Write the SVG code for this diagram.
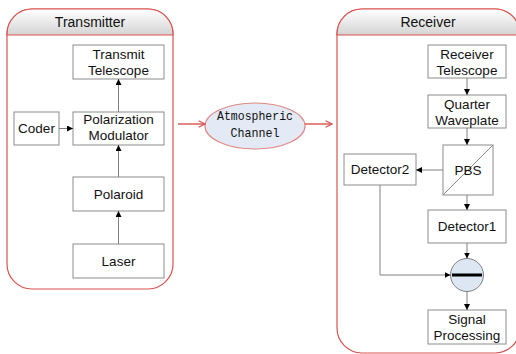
<svg xmlns="http://www.w3.org/2000/svg" width="516" height="354" viewBox="0 0 516 354">
  <defs>
    <linearGradient id="hdr" x1="0" y1="0" x2="0" y2="1">
      <stop offset="0" stop-color="#ffffff"/>
      <stop offset="1" stop-color="#d4d4d4"/>
    </linearGradient>
    <marker id="tri" viewBox="0 0 10 10" refX="10" refY="5" markerWidth="6" markerHeight="6" orient="auto" markerUnits="userSpaceOnUse">
      <path d="M0,0 L10,5 L0,10 z" fill="#000"/>
    </marker>
    <marker id="chev" viewBox="0 0 10 10" refX="9" refY="5" markerWidth="8" markerHeight="9" orient="auto" markerUnits="userSpaceOnUse">
      <path d="M1,1 L9,5 L1,9" fill="none" stroke="#d9534f" stroke-width="1.6"/>
    </marker>
  </defs>
  <style>
    .panel { fill: #ffffff; stroke: #d9534f; stroke-width: 1.2; }
    .head { fill: url(#hdr); stroke: #d9534f; stroke-width: 1.2; }
    .box { fill: #ffffff; stroke: #8c8c8c; stroke-width: 1; }
    .t { font-family: "Liberation Sans", Arial, sans-serif; font-size: 13.5px; fill: #111; text-anchor: middle; }
    .title { font-family: "Liberation Sans", Arial, sans-serif; font-size: 14px; fill: #111; text-anchor: middle; }
    .mono { font-family: "Liberation Mono", "DejaVu Sans Mono", monospace; font-size: 13px; fill: #111; text-anchor: middle; }
    .wire { fill: none; stroke: #808080; stroke-width: 1; marker-end: url(#tri); }
    .red { fill: none; stroke: #d9534f; stroke-width: 1.4; marker-end: url(#chev); }
  </style>

  <!-- Transmitter panel -->
  <g id="transmitter">
    <path class="panel" d="M32,9 H148 A25,25 0 0 1 173,34 V264 A25,25 0 0 1 148,289 H32 A25,25 0 0 1 7,264 V34 A25,25 0 0 1 32,9 Z"/>
    <path class="head" d="M7,35 V34 A25,25 0 0 1 32,9 H148 A25,25 0 0 1 173,34 V35 Z"/>
    <text class="title" x="90" y="27">Transmitter</text>
  </g>

  <!-- Receiver panel -->
  <g id="receiver">
    <path class="panel" d="M362,9 H495 A25,25 0 0 1 520,34 V328 A25,25 0 0 1 495,353 H362 A25,25 0 0 1 337,328 V34 A25,25 0 0 1 362,9 Z"/>
    <path class="head" d="M337,35 V34 A25,25 0 0 1 362,9 H495 A25,25 0 0 1 520,34 V35 Z"/>
    <text class="title" x="428" y="27">Receiver</text>
  </g>

  <!-- Transmitter nodes -->
  <g id="transmit-telescope">
    <rect class="box" x="73" y="45" width="91" height="34"/>
    <text class="t" x="118.5" y="59">Transmit</text>
    <text class="t" x="118.5" y="75">Telescope</text>
  </g>
  <g id="coder">
    <rect class="box" x="14" y="112" width="45" height="33"/>
    <text class="t" x="36.5" y="133">Coder</text>
  </g>
  <g id="polarization-modulator">
    <rect class="box" x="73" y="112" width="91" height="33"/>
    <text class="t" x="118.5" y="124">Polarization</text>
    <text class="t" x="118.5" y="140">Modulator</text>
  </g>
  <g id="polaroid">
    <rect class="box" x="73" y="177" width="91" height="34"/>
    <text class="t" x="118.5" y="199">Polaroid</text>
  </g>
  <g id="laser">
    <rect class="box" x="73" y="244" width="91" height="34"/>
    <text class="t" x="118.5" y="266">Laser</text>
  </g>

  <!-- Channel -->
  <g id="atmospheric-channel">
    <ellipse cx="255" cy="126" rx="50" ry="23" fill="#e3eaf6" stroke="#e08a86" stroke-width="1.2"/>
    <text class="mono" x="255" y="120" textLength="76" lengthAdjust="spacingAndGlyphs">Atmospheric</text>
    <text class="mono" x="255" y="137" textLength="49" lengthAdjust="spacingAndGlyphs">Channel</text>
  </g>

  <!-- Receiver nodes -->
  <g id="receiver-telescope">
    <rect class="box" x="428" y="45" width="78" height="33"/>
    <text class="t" x="467" y="59">Receiver</text>
    <text class="t" x="467" y="75">Telescope</text>
  </g>
  <g id="quarter-waveplate">
    <rect class="box" x="428" y="95" width="78" height="33"/>
    <text class="t" x="467" y="109">Quarter</text>
    <text class="t" x="467" y="125">Waveplate</text>
  </g>
  <g id="pbs">
    <rect class="box" x="443" y="145" width="50" height="50"/>
    <line x1="443" y1="195" x2="493" y2="145" stroke="#8c8c8c" stroke-width="1"/>
    <text class="t" x="468" y="175">PBS</text>
  </g>
  <g id="detector2">
    <rect class="box" x="344" y="154" width="72" height="31"/>
    <text class="t" x="380" y="174">Detector2</text>
  </g>
  <g id="detector1">
    <rect class="box" x="428" y="210" width="78" height="33"/>
    <text class="t" x="467" y="231">Detector1</text>
  </g>
  <g id="subtractor">
    <circle cx="467" cy="275" r="16.5" fill="#dde6f3" stroke="#808080" stroke-width="1"/>
    <line x1="452" y1="275" x2="482" y2="275" stroke="#000" stroke-width="3"/>
  </g>
  <g id="signal-processing">
    <rect class="box" x="428" y="310" width="78" height="34"/>
    <text class="t" x="467" y="324">Signal</text>
    <text class="t" x="467" y="340">Processing</text>
  </g>

  <!-- Connectors -->
  <g id="connectors">
    <line class="wire" x1="59" y1="128.5" x2="73" y2="128.5"/>
    <line class="wire" x1="118.5" y1="112" x2="118.5" y2="79"/>
    <line class="wire" x1="118.5" y1="177" x2="118.5" y2="145"/>
    <line class="wire" x1="118.5" y1="244" x2="118.5" y2="211"/>
    <line class="red" x1="178" y1="124" x2="205" y2="124"/>
    <line class="red" x1="305" y1="124" x2="332" y2="124"/>
    <line class="wire" x1="467" y1="78" x2="467" y2="95"/>
    <line class="wire" x1="467" y1="128" x2="467" y2="145"/>
    <line class="wire" x1="443" y1="170" x2="416" y2="170"/>
    <line class="wire" x1="467" y1="195" x2="467" y2="210"/>
    <line class="wire" x1="467" y1="243" x2="467" y2="258.5"/>
    <polyline class="wire" points="380,185 380,275 450.5,275"/>
    <line class="wire" x1="467" y1="291.5" x2="467" y2="310"/>
  </g>
</svg>
